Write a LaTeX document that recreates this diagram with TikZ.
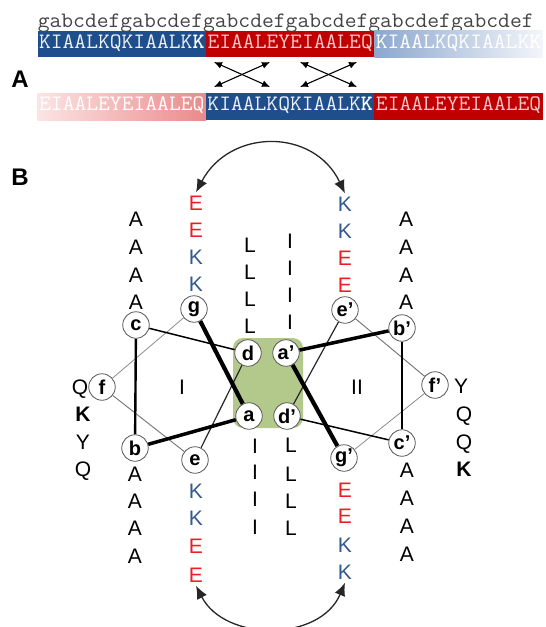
\documentclass[tikz,border=0pt]{standalone}
\usepackage{fontspec}
\setmainfont{Liberation Sans}
\usetikzlibrary{arrows.meta,backgrounds}

\definecolor{barblue}{HTML}{1F4E8C}
\definecolor{barred}{HTML}{C00000}
\definecolor{paleblue}{HTML}{8CA7CE}
\definecolor{fadeblue}{HTML}{F3F6FA}
\definecolor{palered}{HTML}{FCE4E4}
\definecolor{midred}{HTML}{EA8A8A}
\definecolor{pinktext}{HTML}{F8CACA}
\definecolor{heptgray}{HTML}{444444}
\definecolor{resred}{HTML}{EE1C25}
\definecolor{resblue}{HTML}{33598E}
\definecolor{coregreen}{HTML}{B3C98C}

% stretch the typewriter text so one character takes 12 px
\newcommand{\seqtext}[1]{\scalebox{1.042}[1]{#1}}

\begin{document}
\begin{tikzpicture}[x=1pt,y=-1pt,
  seqseg/.style={minimum width=168.4pt, minimum height=26.6pt, inner sep=0pt,
    font=\fontsize{22}{22}\selectfont\ttfamily, text height=12pt, text depth=4pt},
  xarrow/.style={{Latex[length=8pt,width=7pt]}-{Latex[length=8pt,width=7pt]}, line width=1.1pt},
  panellabel/.style={font=\fontsize{24}{24}\selectfont\bfseries, inner sep=0pt},
  residue/.style={font=\fontsize{21}{21}\selectfont, inner sep=3pt, text height=15pt, text depth=0pt},
  site/.style={circle, draw=black!65, line width=0.8pt, fill=white, minimum size=26.5pt,
    inner sep=0pt, font=\fontsize{20}{20}\selectfont\bfseries},
  hoparrow/.style={{Latex[length=13pt,width=11pt]}-{Latex[length=13pt,width=11pt]}, line width=1.3pt, black!85},
]
\useasboundingbox (0,0) rectangle (546,627);

% ---------------- panel A ----------------
\node[panellabel] (labA) at (20,79) {A};

\node[anchor=base west, inner sep=0pt, text=heptgray, font=\fontsize{22}{22}\selectfont\ttfamily]
  (heptads) at (37.6,27) {\seqtext{gabcdefgabcdefgabcdefgabcdefgabcdefgabcdef}};

% upper strand
\node[seqseg, fill=barblue, text=white!92!barblue] (t1) at (121.8,44)
  {\seqtext{KIAALKQKIAALK\textbf{\textcolor{white}{K}}}};
\node[seqseg, fill=barred, text=pinktext] (t2) at (290.2,44)
  {\seqtext{EIAALEYEIAALEQ}};
\node[seqseg, left color=paleblue, right color=fadeblue, text=white] (t3) at (458.6,44)
  {\seqtext{KIAALKQKIAALK\textbf{K}}};

% lower strand
\node[seqseg, left color=palered, right color=midred, text=white] (b1) at (121.8,106.7)
  {\seqtext{EIAALEYEIAALEQ}};
\node[seqseg, fill=barblue, text=white!92!barblue] (b2) at (290.2,106.7)
  {\seqtext{KIAALKQKIAALK\textbf{\textcolor{white}{K}}}};
\node[seqseg, fill=barred, text=pinktext] (b3) at (458.6,106.7)
  {\seqtext{EIAALEYEIAALEQ}};

% crossed salt-bridge arrows
\coordinate (p1) at (214,62);  \coordinate (p2) at (270,87);
\coordinate (p3) at (270,62);  \coordinate (p4) at (214,87);
\coordinate (q1) at (300,62);  \coordinate (q2) at (357,87);
\coordinate (q3) at (357,62);  \coordinate (q4) at (300,87);
\draw[xarrow] (p1) -- (p2);
\draw[xarrow] (p3) -- (p4);
\draw[xarrow] (q1) -- (q2);
\draw[xarrow] (q3) -- (q4);

% ---------------- panel B ----------------
\node[panellabel] (labB) at (20,177) {B};

% heptad positions, helix I
\node[site] (c) at (136,325) {c};
\node[site] (g) at (194,309) {g};
\node[site] (d) at (248,353) {d};
\node[site] (a) at (249,416) {a};
\node[site] (f) at (102,387) {f};
\node[site] (b) at (135,448) {b};
\node[site] (e) at (195,460) {e};
% heptad positions, helix II
\node[site] (a2) at (286,353) {a'};
\node[site] (d2) at (287,416) {d'};
\node[site] (e2) at (345,310) {e'};
\node[site] (b2) at (402,328) {b'};
\node[site] (f2) at (435,385) {f'};
\node[site] (c2) at (402,443) {c'};
\node[site] (g2) at (344,458) {g'};

\node[residue] (h1) at (182,387) {I};
\node[residue] (h2) at (357,387) {II};

% residue columns above the wheels
\foreach \y [count=\i] in {219,247,275,302}
  \node[residue] (uA\i) at (136,\y) {A};
\foreach \t/\c/\y [count=\i] in {E/resred/203, E/resred/230, K/resblue/257, K/resblue/284}
  \node[residue, text=\c] (uL\i) at (196,\y) {\t};
\foreach \y [count=\i] in {245,272,299,326}
  \node[residue] (uLeu\i) at (250,\y) {L};
\foreach \y [count=\i] in {241,268,295,322}
  \node[residue] (uIle\i) at (290,\y) {I};
\foreach \t/\c/\y [count=\i] in {K/resblue/204, K/resblue/231, E/resred/258, E/resred/285}
  \node[residue, text=\c] (uR\i) at (345,\y) {\t};
\foreach \y [count=\i] in {219,247,275,302}
  \node[residue] (uB\i) at (406,\y) {A};

% residue columns below the wheels
\foreach \y [count=\i] in {474,501,528,556}
  \node[residue] (lA\i) at (135,\y) {A};
\foreach \t/\c/\y [count=\i] in {K/resblue/491, K/resblue/518, E/resred/546, E/resred/575}
  \node[residue, text=\c] (lL\i) at (196,\y) {\t};
\foreach \y [count=\i] in {446,472,499,527}
  \node[residue] (lIle\i) at (255,\y) {I};
\foreach \y [count=\i] in {445,474,501,528}
  \node[residue] (lLeu\i) at (291,\y) {L};
\foreach \t/\c/\y [count=\i] in {E/resred/490, E/resred/516, K/resblue/545, K/resblue/572}
  \node[residue, text=\c] (lR\i) at (345,\y) {\t};
\foreach \y [count=\i] in {470,498,526,554}
  \node[residue] (lB\i) at (407,\y) {A};

% f-position residues beside the wheels
\node[residue] (sL1) at (80,387) {Q};
\node[residue, font=\fontsize{21}{21}\selectfont\bfseries] (sL2) at (83,414) {K};
\node[residue] (sL3) at (83,442) {Y};
\node[residue] (sL4) at (83,469) {Q};
\node[residue] (sR1) at (461,386) {Y};
\node[residue] (sR2) at (464,414) {Q};
\node[residue] (sR3) at (464,442) {Q};
\node[residue, font=\fontsize{21}{21}\selectfont\bfseries] (sR4) at (464,469) {K};

% interhelical e-g' / g-e' pairs
\draw[hoparrow] (uL1.north) .. controls (230,128) and (314,128) .. (uR1.north);
\draw[hoparrow] (lL4.south) .. controls (225,642) and (320,642) .. (lR4.south);

% hydrophobic core and the helical-wheel backbone
\begin{pgfonlayer}{background}
  \fill[coregreen, rounded corners=10pt] (233,338) rectangle (303,428);
  % helix I
  \draw[line width=0.8pt, black!45] (f) -- (g);
  \draw[line width=0.9pt, black!55] (e) -- (f);
  \draw[line width=1.2pt, black!85] (d) -- (e);
  \draw[line width=1.5pt] (c) -- (d);
  \draw[line width=2.4pt] (b) -- (c);
  \draw[line width=3.5pt] (a) -- (b);
  \draw[line width=4.2pt] (g) -- (a);
  % helix II
  \draw[line width=0.8pt, black!45] (f2) -- (g2);
  \draw[line width=0.9pt, black!55] (e2) -- (f2);
  \draw[line width=1.2pt, black!85] (d2) -- (e2);
  \draw[line width=1.5pt] (c2) -- (d2);
  \draw[line width=2.4pt] (b2) -- (c2);
  \draw[line width=3.5pt] (a2) -- (b2);
  \draw[line width=4.2pt] (g2) -- (a2);
\end{pgfonlayer}
\end{tikzpicture}
\end{document}
